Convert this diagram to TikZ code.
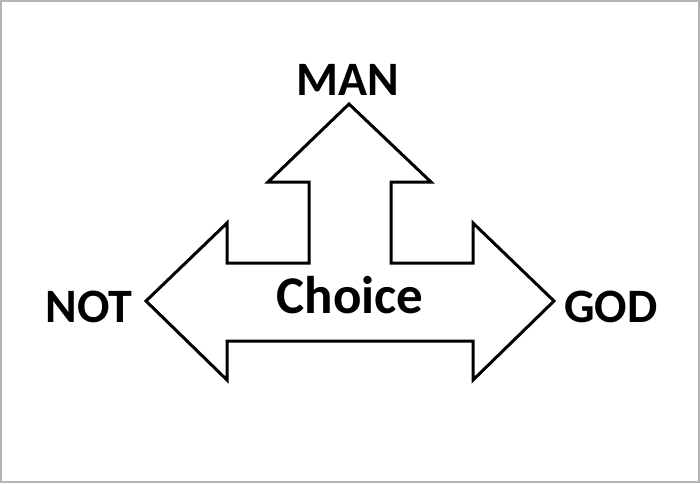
\documentclass[tikz,border=0pt]{standalone}
\usepackage{fontspec}
\setmainfont{Carlito}
\usepackage{tikz}
\definecolor{framegray}{HTML}{B4B4B4}
\tikzset{
  word/.style={font=\fontsize{48}{52}\selectfont\bfseries, inner sep=0pt, anchor=base},
  outline/.style={draw=black, line width=3pt, line join=miter, fill=white},
}

\begin{document}
\begin{tikzpicture}[x=1pt, y=-1pt]

% Page frame
\useasboundingbox (0,0) rectangle (700,483);
\draw[framegray, line width=2pt] (1,1) rectangle (699,482);

% Three-way arrow (left, right and up)
\draw[outline] (146,301) -- (227,223) -- (227,263) -- (309,263) -- (309,182)
  -- (268,182) -- (349,104) -- (431,182) -- (391,182) -- (391,263)
  -- (473,263) -- (473,223) -- (554,301) -- (473,380) -- (473,341)
  -- (227,341) -- (227,380) -- cycle;

% Labels
\node[word] (man) at (348,95) {MAN};
\node[word] (nott) at (89,322) {NOT};
\node[word] (god) at (611,322) {GOD};
\node[word, font=\fontsize{53}{57}\selectfont\bfseries] (choice) at (350,313) {Choice};

\end{tikzpicture}
\end{document}
